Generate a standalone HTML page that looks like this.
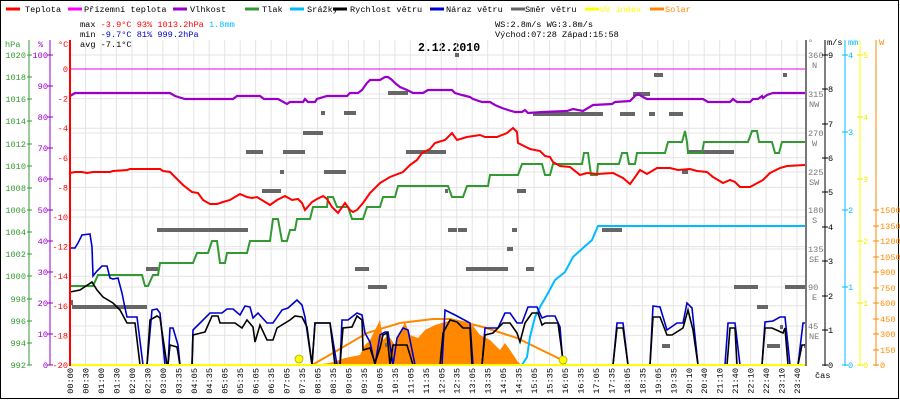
<!DOCTYPE html>
<html><head><meta charset="utf-8"><style>
html,body{margin:0;padding:0;background:#fff}
svg{display:block}
text{font-family:"Liberation Mono",monospace;font-size:8.6px}
</style></head><body>
<svg width="900" height="400" viewBox="0 0 900 400" xmlns="http://www.w3.org/2000/svg">
<rect x="0.5" y="0.5" width="898" height="398" fill="#fff" stroke="#000"/>
<g stroke-width="3">
<line x1="6" y1="9" x2="20" y2="9" stroke="#f00"/>
<line x1="68" y1="9" x2="82" y2="9" stroke="#f0f"/>
<line x1="173" y1="9" x2="187" y2="9" stroke="#90c"/>
<line x1="245" y1="9" x2="259" y2="9" stroke="#393"/>
<line x1="290" y1="9" x2="304" y2="9" stroke="#0bf"/>
<line x1="333" y1="9" x2="347" y2="9" stroke="#000"/>
<line x1="430" y1="9" x2="444" y2="9" stroke="#00c"/>
<line x1="511" y1="9" x2="525" y2="9" stroke="#666"/>
<line x1="585" y1="9" x2="599" y2="9" stroke="#ff0"/>
<line x1="650" y1="9" x2="664" y2="9" stroke="#f80"/>
</g>
<g>
<text x="25" y="12">Teplota</text>
<text x="84" y="12">Přízemní teplota</text>
<text x="190" y="12">Vlhkost</text>
<text x="262" y="12">Tlak</text>
<text x="307" y="12">Srážky</text>
<text x="350" y="12">Rychlost větru</text>
<text x="446" y="12">Náraz větru</text>
<text x="525" y="12">Směr větru</text>
<text x="600" y="12" fill="#ff0">UV index</text>
<text x="665" y="12" fill="#f80">Solar</text>
</g>
<text x="80" y="27">max <tspan fill="#f00">-3.9°C  93%  1013.2hPa</tspan>   <tspan fill="#0bf">1.8mm</tspan></text>
<text x="80" y="37">min <tspan fill="#00c">-9.7°C  81%  999.2hPa</tspan></text>
<text x="80" y="47">avg -7.1°C</text>
<text x="495" y="27">WS:2.8m/s   WG:3.8m/s</text>
<text x="495" y="37">Východ:07:28 Západ:15:58</text>
<text x="418" y="51" style="font-size:11.5px;font-weight:bold">2.12.2010</text>
<g stroke="#e4e4e4" stroke-width="1">
<path d="M70 40V365M85.5 40V365M101 40V365M116.4 40V365M131.9 40V365M147.4 40V365M162.8 40V365M178.3 40V365M193.8 40V365M209.2 40V365M224.7 40V365M240.2 40V365M255.6 40V365M271.1 40V365M286.6 40V365M302 40V365M317.5 40V365M333 40V365M348.5 40V365M363.9 40V365M379.4 40V365M394.9 40V365M410.3 40V365M425.8 40V365M441.3 40V365M456.7 40V365M472.2 40V365M487.7 40V365M503.1 40V365M518.6 40V365M534.1 40V365M549.5 40V365M565 40V365M580.5 40V365M596 40V365M611.4 40V365M626.9 40V365M642.4 40V365M657.8 40V365M673.3 40V365M688.8 40V365M704.2 40V365M719.7 40V365M735.2 40V365M750.6 40V365M766.1 40V365M781.6 40V365M797 40V365"/>
<path d="M70 98.6H806M70 128.2H806M70 157.8H806M70 187.4H806M70 217H806M70 246.6H806M70 276.2H806M70 305.8H806M70 335.4H806M70 55H806M70 94H806M70 133H806M70 172H806M70 210H806M70 249H806M70 287H806M70 326H806"/>
</g>
<line x1="70" y1="69" x2="806" y2="69" stroke="#e0e" stroke-width="1"/>
<polygon fill="#f80" points="312,365 330,363 345,358 360,355 365,345 370,340 375,330 380,320 383,340 388,335 395,345 400,333 405,322 410,335 418,338 425,330 435,325 445,322 455,320 465,322 470,322 480,335 490,340 495,345 500,350 505,343 510,350 518,362 522,365"/>
<polyline fill="none" stroke="#f80" stroke-width="2" points="312,365 333,353 367,333 400,323 433,319 450,319 483,327 517,338 562,360"/>
<g fill="#666">
<rect x="157" y="228" width="91" height="4"/><rect x="246" y="150" width="17" height="4"/><rect x="283" y="150" width="22" height="4"/>
<rect x="303" y="131" width="20" height="4"/><rect x="321" y="111" width="4" height="4"/><rect x="344" y="111" width="12" height="4"/>
<rect x="388" y="91" width="20" height="4"/><rect x="406" y="150" width="40" height="4"/><rect x="280" y="170" width="4" height="4"/>
<rect x="324" y="170" width="22" height="4"/><rect x="262" y="189" width="19" height="4"/><rect x="146" y="267" width="12" height="4"/>
<rect x="355" y="267" width="14" height="4"/><rect x="368" y="285" width="19" height="4"/><rect x="72" y="305" width="75" height="4"/>
<rect x="70" y="300" width="3" height="5"/><rect x="455" y="53" width="4" height="4"/><rect x="654" y="73" width="9" height="4"/>
<rect x="783" y="73" width="4" height="4"/><rect x="633" y="92" width="17" height="4"/><rect x="533" y="112" width="70" height="4"/>
<rect x="620" y="112" width="15" height="4"/><rect x="649" y="112" width="6" height="4"/><rect x="669" y="112" width="14" height="4"/>
<rect x="445" y="189" width="3" height="4"/><rect x="517" y="189" width="9" height="4"/><rect x="448" y="228" width="9" height="4"/>
<rect x="458" y="228" width="9" height="4"/><rect x="512" y="228" width="5" height="4"/><rect x="602" y="228" width="20" height="4"/>
<rect x="507" y="247" width="6" height="4"/><rect x="466" y="267" width="42" height="4"/><rect x="526" y="267" width="8" height="4"/>
<rect x="682" y="170" width="6" height="4"/><rect x="687" y="150" width="47" height="4"/><rect x="734" y="285" width="24" height="4"/>
<rect x="785" y="285" width="20" height="4"/><rect x="757" y="305" width="11" height="4"/><rect x="662" y="344" width="8" height="4"/>
<rect x="767" y="344" width="13" height="4"/><rect x="780" y="325" width="3" height="4"/><rect x="804" y="344" width="3" height="4"/>
<rect x="385" y="343" width="2" height="4"/>
</g>
<polyline fill="none" stroke="#90c" stroke-width="2.2" points="70,96 75,93 170,93 175,96 185,99 233,99 237,96 260,96 264,99 278,99 287,104 290,102 303,102 305,99 308,102 315,102 317,99 327,96 347,96 350,93 358,93 362,90 367,83 370,80 380,80 385,77 388,77 392,80 395,83 400,87 407,90 413,93 423,93 428,90 452,90 455,93 462,95 470,97 473,99 482,102 490,102 495,105 502,108 508,110 515,112 522,112 525,110 528,113 543,112 567,111 573,109 583,111 593,105 612,104 615,102 630,101 635,96 638,94 643,97 647,99 703,99 708,102 730,102 733,99 737,102 750,102 753,99 758,99 762,96 763,98 767,95 773,93 805,93"/>
<polyline fill="none" stroke="#393" stroke-width="2" points="70,286 93,286 98,275 142,275 145,286 148,286 153,275 158,275 160,263 193,263 197,253 208,253 212,241 217,241 220,263 225,263 227,253 247,253 250,241 270,241 273,219 278,219 282,241 287,241 290,230 295,230 297,219 310,219 313,207 327,207 328,197 333,197 337,207 348,207 352,219 363,219 367,207 380,207 383,197 395,197 398,186 448,186 452,197 463,197 467,186 488,186 490,175 518,175 522,164 542,164 545,175 550,175 553,164 582,164 584,153 588,153 591,175 597,175 598,164 619,164 622,153 627,153 629,164 635,164 637,153 665,153 668,142 682,142 685,131 687,142 688,153 702,153 704,142 748,142 752,131 757,131 759,142 772,142 775,153 779,153 782,142 805,142"/>
<polyline fill="none" stroke="#f00" stroke-width="2" points="70,173 75,172 82,172 87,173 93,172 110,172 113,171 127,170 130,169 160,169 163,171 170,172 178,180 183,185 192,192 198,193 203,200 210,204 217,204 223,202 230,200 240,194 247,197 252,198 257,197 270,205 277,200 285,196 292,200 298,199 302,203 305,210 312,202 317,199 323,196 327,199 332,207 338,213 345,203 350,210 353,212 357,210 363,203 370,193 380,183 390,177 403,172 410,165 417,160 422,153 430,149 435,143 445,140 452,133 457,140 467,137 480,135 485,137 497,137 507,133 513,128 517,132 518,143 530,149 540,151 545,156 550,157 553,162 560,166 570,167 580,175 587,173 597,174 613,173 623,178 630,184 633,180 640,170 647,174 657,168 670,168 678,170 690,169 697,171 707,172 713,177 723,183 730,180 735,182 740,187 750,187 763,180 770,173 780,168 787,166 805,165"/>
<polyline fill="none" stroke="#0bf" stroke-width="2" points="522,365 527,357 530,337 535,317 540,307 547,295 555,280 565,272 573,257 583,248 592,240 598,226 806,226"/>
<polyline fill="none" stroke="#00c" stroke-width="1.6" points="70,248 75,248 78,243 82,235 90,234 92,247 93,276 97,271 102,266 107,266 110,278 113,279 118,278 122,293 125,308 127,317 137,317 143,365 147,365 152,310 157,309 160,313 165,365 168,365 170,328 173,328 178,345 180,365 192,365 193,330 210,313 222,313 227,309 233,309 240,315 245,306 250,307 253,318 258,313 267,323 273,323 282,310 288,308 297,300 302,305 305,317 312,365 315,323 330,323 337,365 340,365 342,320 348,320 357,313 362,315 365,333 370,342 375,365 380,335 385,332 388,332 393,365 397,338 403,328 408,330 415,365 442,365 445,310 455,315 470,323 473,365 482,365 485,328 498,328 505,313 510,313 517,323 522,323 528,307 537,307 542,318 547,316 555,316 560,327 563,365 613,365 617,323 623,323 628,365 650,365 653,306 660,307 667,330 677,323 683,323 687,303 692,308 698,365 725,365 728,323 735,323 740,365 762,365 765,322 773,321 780,317 785,317 790,365 798,365 803,323 805,323"/>
<polyline fill="none" stroke="#000" stroke-width="1.6" points="70,292 80,290 92,282 97,290 103,297 113,303 120,310 127,323 135,323 140,365 147,365 150,320 157,316 160,318 167,365 168,365 170,345 177,347 180,365 192,365 193,335 205,332 212,316 218,316 220,323 235,323 242,328 247,320 253,327 255,342 260,325 267,340 273,340 277,328 290,320 295,316 302,317 307,327 312,365 315,323 330,323 335,365 340,365 343,328 352,327 357,316 362,320 363,350 370,348 375,363 380,348 383,335 387,333 390,365 393,345 407,345 413,365 440,365 443,333 450,320 457,322 463,328 470,328 472,365 482,365 485,335 493,333 503,323 510,323 517,333 520,342 525,323 532,313 538,313 542,325 545,323 558,323 563,360 565,365 613,365 617,328 623,328 628,365 650,365 653,317 660,317 667,335 672,335 683,328 688,310 693,330 698,365 727,365 730,328 735,328 737,365 762,365 765,328 772,328 783,333 785,328 788,365 798,365 802,345 805,345"/>
<line x1="70" y1="365" x2="806" y2="365" stroke="#ff0" stroke-width="2"/>
<circle cx="299" cy="359" r="4" fill="#ff0" stroke="#aa0" stroke-width="0.8"/>
<circle cx="563" cy="360" r="4" fill="#ff0" stroke="#aa0" stroke-width="0.8"/>
<line x1="29" y1="40" x2="29" y2="365" stroke="#393"/>
<line x1="50" y1="40" x2="50" y2="365" stroke="#90c"/>
<line x1="70" y1="40" x2="70" y2="366" stroke="#f00" stroke-width="2"/>
<text x="5" y="47" fill="#393">hPa</text><text x="38" y="47" fill="#90c">%</text><text x="58" y="47" fill="#f00">°C</text>
<g fill="#393" text-anchor="end">
<text x="26" y="58">1020</text><text x="26" y="80">1018</text><text x="26" y="102">1016</text><text x="26" y="124">1014</text><text x="26" y="147">1012</text><text x="26" y="169">1010</text><text x="26" y="191">1008</text><text x="26" y="213">1006</text><text x="26" y="235">1004</text><text x="26" y="257">1002</text><text x="26" y="279">1000</text><text x="26" y="302">998</text><text x="26" y="324">996</text><text x="26" y="346">994</text><text x="26" y="368">992</text>
</g>
<path stroke="#393" d="M27 55h5M27 77h5M27 99h5M27 121h5M27 144h5M27 166h5M27 188h5M27 210h5M27 232h5M27 254h5M27 276h5M27 299h5M27 321h5M27 343h5M27 365h5"/>
<g fill="#90c" text-anchor="end">
<text x="48" y="58">100</text><text x="48" y="89">90</text><text x="48" y="120">80</text><text x="48" y="151">70</text><text x="48" y="182">60</text><text x="48" y="213">50</text><text x="48" y="244">40</text><text x="48" y="275">30</text><text x="48" y="306">20</text><text x="48" y="337">10</text><text x="48" y="368">0</text>
</g>
<path stroke="#90c" d="M47 55h6M47 86h6M47 117h6M47 148h6M47 179h6M47 210h6M47 241h6M47 272h6M47 303h6M47 334h6M47 365h6"/>
<g fill="#f00" text-anchor="end">
<text x="68" y="72">0</text><text x="68" y="101.6">-2</text><text x="68" y="131.2">-4</text><text x="68" y="160.8">-6</text><text x="68" y="190.4">-8</text><text x="68" y="220">-10</text><text x="68" y="249.6">-12</text><text x="68" y="279.2">-14</text><text x="68" y="308.8">-16</text><text x="68" y="338.4">-18</text><text x="68" y="368">-20</text>
</g>
<line x1="806" y1="40" x2="806" y2="366" stroke="#777" stroke-width="2"/>
<line x1="825" y1="40" x2="825" y2="366" stroke="#000"/>
<line x1="845" y1="40" x2="845" y2="366" stroke="#0bf"/>
<line x1="860" y1="40" x2="860" y2="366" stroke="#ff0"/>
<line x1="876" y1="40" x2="876" y2="366" stroke="#f80"/>
<text x="808" y="45" fill="#777">°</text><text x="827" y="45">m/s</text><text x="848" y="45" fill="#0bf">mm</text><text x="879" y="45" fill="#f80">W</text>
<g fill="#777">
<text x="808" y="58">360</text><text x="812" y="68">N</text>
<text x="808" y="97">315</text><text x="809" y="107">NW</text>
<text x="808" y="136">270</text><text x="812" y="146">W</text>
<text x="808" y="175">225</text><text x="809" y="185">SW</text>
<text x="808" y="213">180</text><text x="812" y="223">S</text>
<text x="808" y="252">135</text><text x="809" y="262">SE</text>
<text x="808" y="290">90</text><text x="812" y="300">E</text>
<text x="808" y="329">45</text><text x="809" y="339">NE</text>
</g>
<g>
<text x="828" y="58">9</text><text x="828" y="92">8</text><text x="828" y="127">7</text><text x="828" y="161">6</text><text x="828" y="195">5</text><text x="828" y="230">4</text><text x="828" y="264">3</text><text x="828" y="299">2</text><text x="828" y="333">1</text><text x="828" y="368">0</text>
</g>
<path stroke="#000" d="M822 55h6M822 89h6M822 124h6M822 158h6M822 192h6M822 227h6M822 261h6M822 296h6M822 330h6M822 365h6"/>
<g fill="#0bf"><text x="848" y="58">4</text><text x="848" y="135">3</text><text x="848" y="213">2</text><text x="848" y="290">1</text><text x="848" y="368">0</text></g>
<path stroke="#0bf" d="M842 55h6M842 132h6M842 210h6M842 287h6M842 365h6"/>
<g fill="#ee0"><text x="863" y="58">5</text><text x="863" y="120">4</text><text x="863" y="182">3</text><text x="863" y="244">2</text><text x="863" y="306">1</text><text x="863" y="368">0</text></g>
<path stroke="#ee0" d="M857 55h6M857 117h6M857 179h6M857 241h6M857 303h6M857 365h6"/>
<g fill="#f80">
<text x="880" y="213">1500</text><text x="880" y="229">1350</text><text x="880" y="244">1200</text><text x="880" y="260">1050</text><text x="880" y="275">900</text><text x="880" y="291">750</text><text x="880" y="306">600</text><text x="880" y="322">450</text><text x="880" y="337">300</text><text x="880" y="353">150</text><text x="880" y="368">0</text>
</g>
<path stroke="#f80" d="M873 210h6M873 226h6M873 241h6M873 257h6M873 272h6M873 288h6M873 303h6M873 319h6M873 334h6M873 350h6M873 365h6"/>
<text x="815" y="378">čas</text>
<g text-anchor="end">
<text transform="translate(73,368) rotate(-90)">00:00</text>
<text transform="translate(88.5,368) rotate(-90)">00:30</text>
<text transform="translate(104,368) rotate(-90)">01:00</text>
<text transform="translate(119.4,368) rotate(-90)">01:30</text>
<text transform="translate(134.9,368) rotate(-90)">02:00</text>
<text transform="translate(150.4,368) rotate(-90)">02:30</text>
<text transform="translate(165.8,368) rotate(-90)">03:00</text>
<text transform="translate(181.3,368) rotate(-90)">03:35</text>
<text transform="translate(196.8,368) rotate(-90)">04:05</text>
<text transform="translate(212.2,368) rotate(-90)">04:35</text>
<text transform="translate(227.7,368) rotate(-90)">05:05</text>
<text transform="translate(243.2,368) rotate(-90)">05:35</text>
<text transform="translate(258.6,368) rotate(-90)">06:05</text>
<text transform="translate(274.1,368) rotate(-90)">06:35</text>
<text transform="translate(289.6,368) rotate(-90)">07:05</text>
<text transform="translate(305,368) rotate(-90)">07:35</text>
<text transform="translate(320.5,368) rotate(-90)">08:05</text>
<text transform="translate(336,368) rotate(-90)">08:35</text>
<text transform="translate(351.5,368) rotate(-90)">09:05</text>
<text transform="translate(366.9,368) rotate(-90)">09:35</text>
<text transform="translate(382.4,368) rotate(-90)">10:05</text>
<text transform="translate(397.9,368) rotate(-90)">10:35</text>
<text transform="translate(413.3,368) rotate(-90)">11:05</text>
<text transform="translate(428.8,368) rotate(-90)">11:35</text>
<text transform="translate(444.3,368) rotate(-90)">12:05</text>
<text transform="translate(459.7,368) rotate(-90)">12:35</text>
<text transform="translate(475.2,368) rotate(-90)">13:05</text>
<text transform="translate(490.7,368) rotate(-90)">13:35</text>
<text transform="translate(506.1,368) rotate(-90)">14:05</text>
<text transform="translate(521.6,368) rotate(-90)">14:35</text>
<text transform="translate(537.1,368) rotate(-90)">15:05</text>
<text transform="translate(552.5,368) rotate(-90)">15:35</text>
<text transform="translate(568,368) rotate(-90)">16:05</text>
<text transform="translate(583.5,368) rotate(-90)">16:35</text>
<text transform="translate(599,368) rotate(-90)">17:05</text>
<text transform="translate(614.4,368) rotate(-90)">17:35</text>
<text transform="translate(629.9,368) rotate(-90)">18:05</text>
<text transform="translate(645.4,368) rotate(-90)">18:35</text>
<text transform="translate(660.8,368) rotate(-90)">19:05</text>
<text transform="translate(676.3,368) rotate(-90)">19:35</text>
<text transform="translate(691.8,368) rotate(-90)">20:10</text>
<text transform="translate(707.2,368) rotate(-90)">20:40</text>
<text transform="translate(722.7,368) rotate(-90)">21:10</text>
<text transform="translate(738.2,368) rotate(-90)">21:40</text>
<text transform="translate(753.6,368) rotate(-90)">22:10</text>
<text transform="translate(769.1,368) rotate(-90)">22:40</text>
<text transform="translate(784.6,368) rotate(-90)">23:10</text>
<text transform="translate(800,368) rotate(-90)">23:40</text>
</g>
</svg>
</body></html>
